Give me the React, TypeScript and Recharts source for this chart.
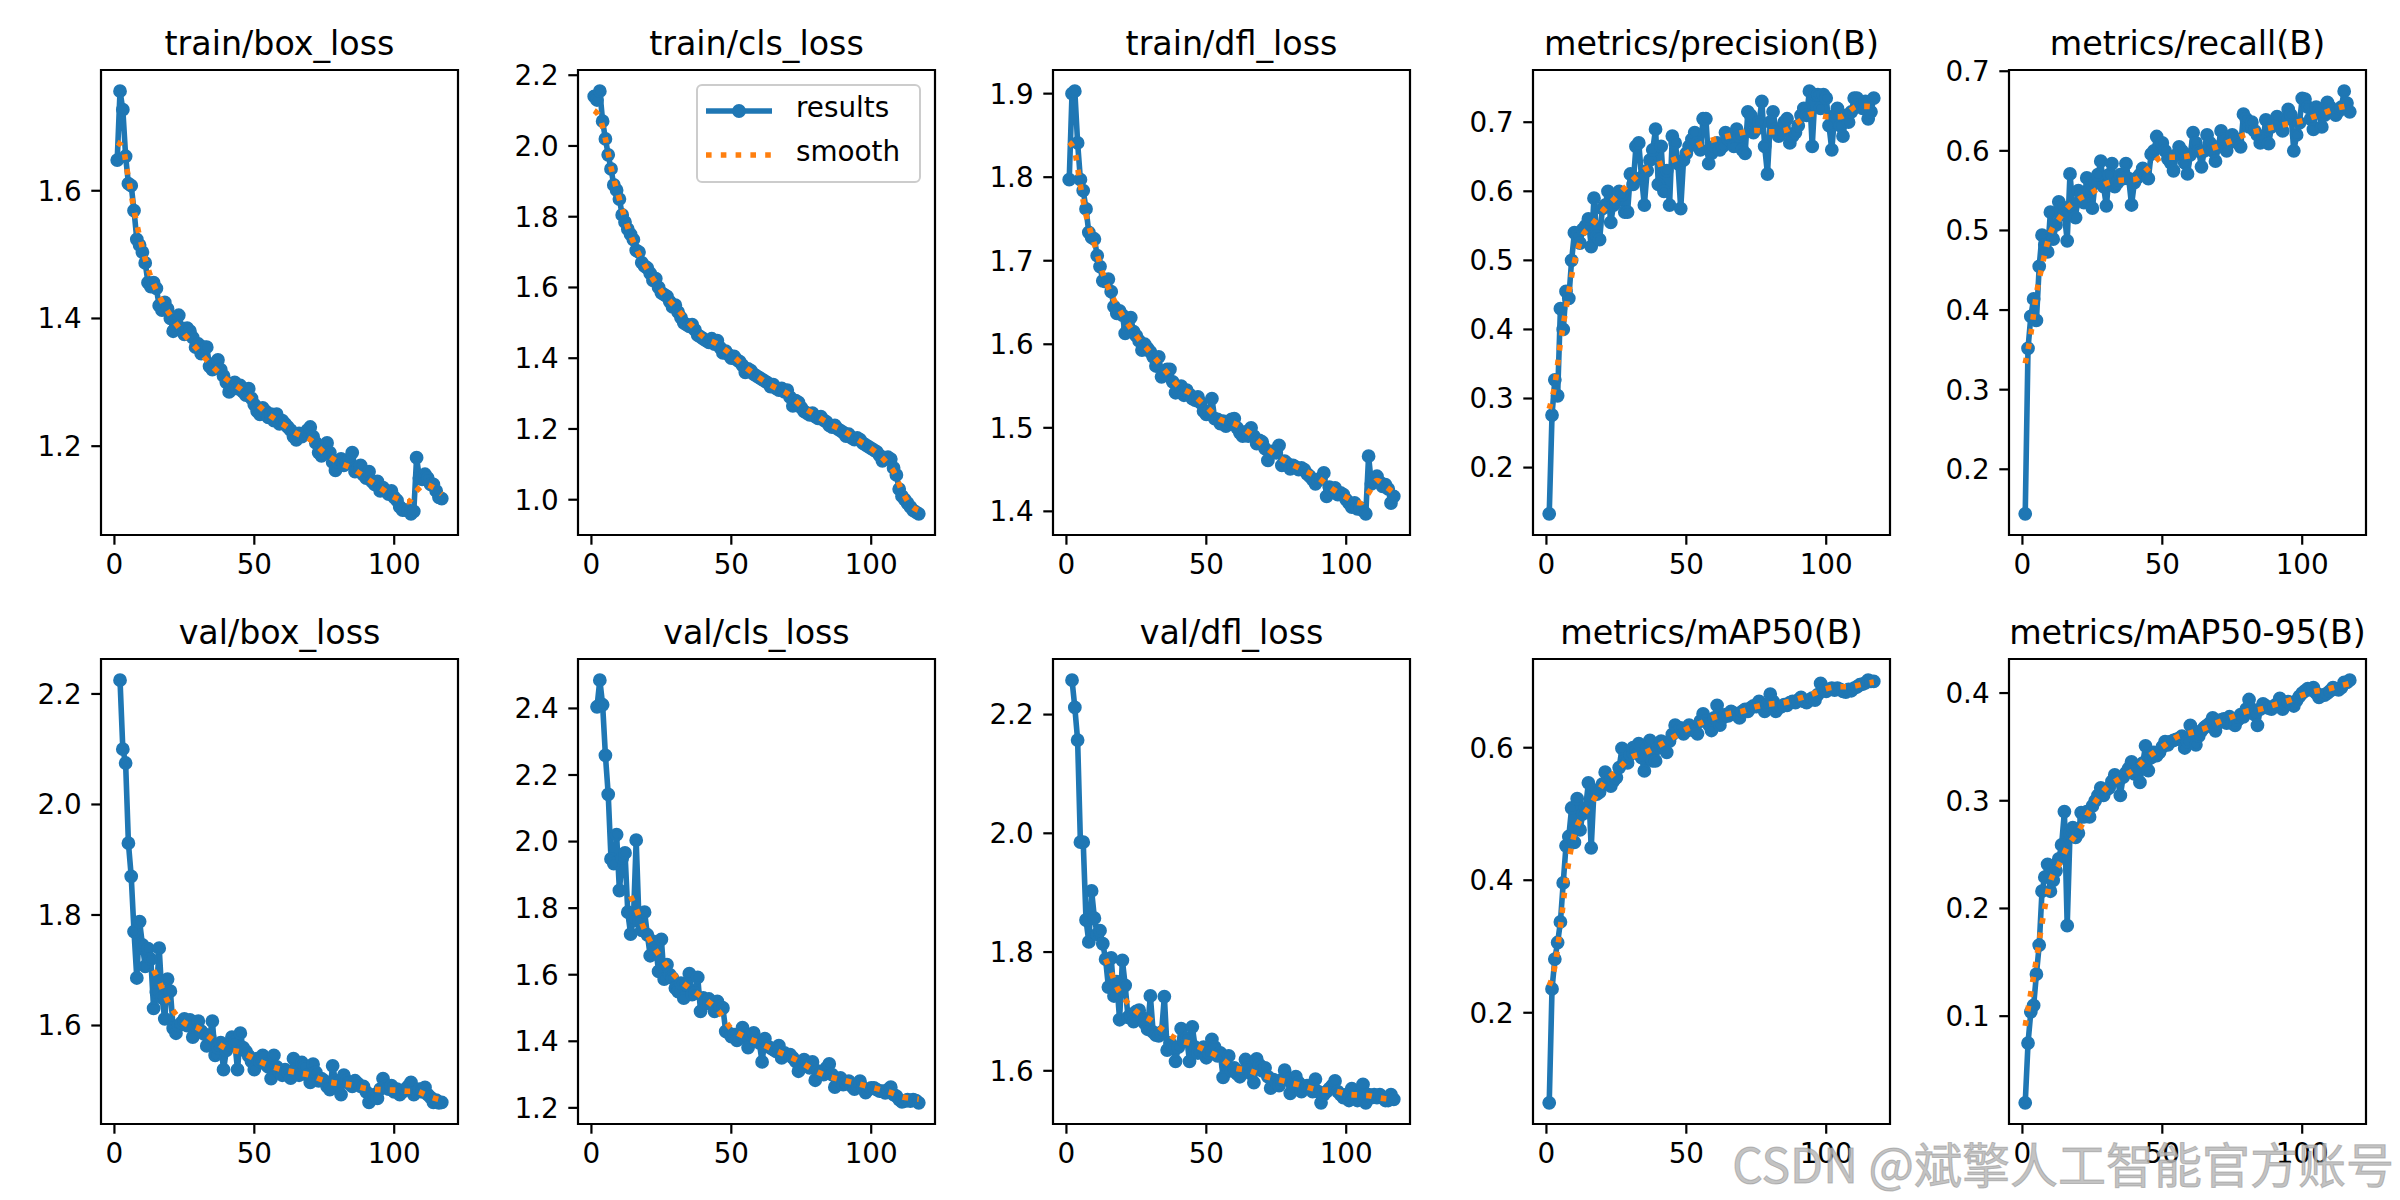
import React from 'react'
import { LineChart, Line, XAxis, YAxis, ReferenceArea, Legend } from 'recharts'

const trainBoxLoss = [
  1.648, 1.756, 1.727, 1.654, 1.611, 1.608, 1.569, 1.524, 1.515, 1.504,
  1.487, 1.456, 1.45, 1.456, 1.447, 1.42, 1.413, 1.425, 1.415, 1.40,
  1.38, 1.39, 1.405, 1.385, 1.375, 1.385, 1.38, 1.37, 1.355, 1.36,
  1.345, 1.355, 1.355, 1.325, 1.32, 1.33, 1.335, 1.32, 1.31, 1.30,
  1.285, 1.295, 1.30, 1.29, 1.295, 1.285, 1.28, 1.29, 1.275, 1.265,
  1.255, 1.25, 1.26, 1.255, 1.245, 1.25, 1.24, 1.25, 1.235, 1.24,
  1.235, 1.23, 1.225, 1.215, 1.21, 1.22, 1.215, 1.22, 1.225, 1.23,
  1.215, 1.205, 1.19, 1.185, 1.20, 1.205, 1.19, 1.175, 1.162, 1.175,
  1.18, 1.17, 1.175, 1.18, 1.19, 1.16, 1.165, 1.17, 1.155, 1.15,
  1.16, 1.145, 1.14, 1.145, 1.13, 1.135, 1.13, 1.125, 1.13, 1.12,
  1.115, 1.105, 1.10, 1.10, 1.10, 1.094, 1.098, 1.182, 1.15, 1.148,
  1.156, 1.15, 1.14, 1.14, 1.13, 1.12, 1.118,
]
const trainClsLoss = [
  2.14, 2.13, 2.155, 2.07, 2.02, 1.975, 1.935, 1.89, 1.875, 1.85,
  1.805, 1.785, 1.765, 1.75, 1.735, 1.705, 1.70, 1.67, 1.66, 1.655,
  1.64, 1.62, 1.625, 1.60, 1.585, 1.58, 1.575, 1.56, 1.545, 1.55,
  1.53, 1.515, 1.50, 1.495, 1.49, 1.495, 1.48, 1.465, 1.46, 1.455,
  1.45, 1.445, 1.455, 1.44, 1.45, 1.43, 1.415, 1.42, 1.41, 1.40,
  1.405, 1.395, 1.39, 1.38, 1.36, 1.37, 1.365, 1.355, 1.35, 1.345,
  1.34, 1.335, 1.33, 1.32, 1.325, 1.315, 1.31, 1.315, 1.305, 1.31,
  1.29, 1.265, 1.28, 1.275, 1.26, 1.25, 1.245, 1.24, 1.245, 1.235,
  1.23, 1.235, 1.225, 1.22, 1.21, 1.205, 1.21, 1.20, 1.195, 1.19,
  1.18, 1.185, 1.175, 1.17, 1.175, 1.17, 1.16, 1.155, 1.15, 1.145,
  1.14, 1.135, 1.125, 1.11, 1.115, 1.12, 1.115, 1.09, 1.07, 1.03,
  1.01, 1.00, 0.99, 0.98, 0.97, 0.965, 0.96,
]
const trainDflLoss = [
  1.797, 1.90, 1.903, 1.841, 1.797, 1.784, 1.762, 1.734, 1.728, 1.726,
  1.706, 1.693, 1.676, 1.675, 1.678, 1.663, 1.645, 1.637, 1.64, 1.635,
  1.613, 1.62, 1.632, 1.615, 1.61, 1.604, 1.593, 1.60, 1.595, 1.591,
  1.585, 1.574, 1.585, 1.561, 1.565, 1.57, 1.57, 1.555, 1.542, 1.545,
  1.55, 1.539, 1.545, 1.54, 1.535, 1.533, 1.537, 1.53, 1.52, 1.516,
  1.52, 1.535, 1.511, 1.51, 1.505, 1.508, 1.502, 1.505, 1.51, 1.511,
  1.50, 1.494, 1.49, 1.495, 1.49, 1.50, 1.49, 1.481, 1.485, 1.483,
  1.475, 1.461, 1.47, 1.472, 1.47, 1.479, 1.455, 1.46, 1.457, 1.451,
  1.455, 1.453, 1.45, 1.452, 1.45, 1.445, 1.442, 1.438, 1.433, 1.437,
  1.44, 1.446, 1.418, 1.429, 1.425, 1.428, 1.42, 1.422, 1.42, 1.414,
  1.41, 1.405, 1.41, 1.403, 1.404, 1.401, 1.397, 1.466, 1.433, 1.44,
  1.442, 1.435, 1.43, 1.432, 1.427, 1.41, 1.418,
]
const precision = [
  0.133, 0.276, 0.327, 0.304, 0.43, 0.40, 0.455, 0.445, 0.50, 0.54,
  0.535, 0.525, 0.545, 0.55, 0.56, 0.52, 0.59, 0.535, 0.53, 0.575,
  0.58, 0.60, 0.555, 0.58, 0.585, 0.60, 0.595, 0.57, 0.57, 0.625,
  0.61, 0.665, 0.67, 0.62, 0.58, 0.63, 0.645, 0.66, 0.69, 0.61,
  0.665, 0.60, 0.63, 0.58, 0.68, 0.67, 0.64, 0.575, 0.645, 0.655,
  0.665, 0.675, 0.685, 0.67, 0.66, 0.705, 0.705, 0.64, 0.655, 0.665,
  0.67, 0.66, 0.665, 0.685, 0.675, 0.68, 0.665, 0.69, 0.68, 0.66,
  0.655, 0.715, 0.71, 0.685, 0.69, 0.70, 0.73, 0.665, 0.625, 0.70,
  0.715, 0.69, 0.68, 0.685, 0.70, 0.705, 0.67, 0.68, 0.685, 0.695,
  0.71, 0.72, 0.71, 0.745, 0.665, 0.74, 0.74, 0.72, 0.74, 0.735,
  0.695, 0.66, 0.71, 0.72, 0.695, 0.68, 0.71, 0.70, 0.715, 0.735,
  0.735, 0.725, 0.72, 0.73, 0.705, 0.715, 0.735,
]
const recall = [
  0.144, 0.352, 0.392, 0.414, 0.387, 0.455, 0.494, 0.482, 0.473, 0.523,
  0.489, 0.507, 0.536, 0.53, 0.52, 0.487, 0.571, 0.53, 0.516, 0.55,
  0.545, 0.535, 0.566, 0.55, 0.528, 0.56, 0.57, 0.587, 0.555, 0.531,
  0.57, 0.584, 0.555, 0.56, 0.57, 0.565, 0.584, 0.565, 0.532, 0.56,
  0.566, 0.57, 0.578, 0.57, 0.565, 0.596, 0.60, 0.618, 0.605, 0.61,
  0.60, 0.59, 0.585, 0.575, 0.595, 0.605, 0.60, 0.585, 0.571, 0.595,
  0.623, 0.61, 0.60, 0.58, 0.60, 0.62, 0.61, 0.60, 0.587, 0.605,
  0.625, 0.615, 0.60, 0.61, 0.62, 0.615, 0.61, 0.605, 0.646, 0.64,
  0.63, 0.636, 0.625, 0.62, 0.61, 0.615, 0.639, 0.609, 0.63, 0.635,
  0.643, 0.63, 0.625, 0.64, 0.652, 0.645, 0.60, 0.62, 0.635, 0.666,
  0.665, 0.655, 0.64, 0.627, 0.655, 0.65, 0.63, 0.645, 0.661, 0.655,
  0.65, 0.645, 0.65, 0.655, 0.675, 0.66, 0.649,
]
// val losses have no value for epoch 1
const valBoxLoss = [
  null, 2.225, 2.10, 2.075, 1.93, 1.87, 1.77, 1.686, 1.788, 1.746,
  1.707, 1.739, 1.72, 1.631, 1.66, 1.74, 1.65, 1.612, 1.684, 1.662,
  1.595, 1.586, 1.60, 1.605, 1.612, 1.60, 1.61, 1.579, 1.60, 1.608,
  1.59, 1.585, 1.563, 1.58, 1.608, 1.546, 1.56, 1.569, 1.52, 1.555,
  1.565, 1.579, 1.57, 1.52, 1.586, 1.56, 1.553, 1.545, 1.535, 1.52,
  1.54, 1.535, 1.546, 1.53, 1.525, 1.504, 1.546, 1.525, 1.515, 1.51,
  1.52, 1.515, 1.505, 1.54, 1.52, 1.51, 1.533, 1.525, 1.51, 1.497,
  1.53, 1.515, 1.50, 1.504, 1.50, 1.49, 1.484, 1.527, 1.50, 1.495,
  1.475, 1.51, 1.50, 1.495, 1.49, 1.50, 1.495, 1.49, 1.49, 1.48,
  1.461, 1.47, 1.475, 1.468, 1.485, 1.504, 1.49, 1.485, 1.491, 1.48,
  1.485, 1.475, 1.48, 1.485, 1.49, 1.497, 1.475, 1.48, 1.485, 1.48,
  1.488, 1.475, 1.47, 1.461, 1.465, 1.46, 1.461,
]
const valClsLoss = [
  null, 2.405, 2.485, 2.411, 2.259, 2.142, 1.948, 1.934, 2.021, 1.853,
  1.95, 1.966, 1.788, 1.722, 1.765, 2.004, 1.76, 1.733, 1.788, 1.72,
  1.657, 1.70, 1.68, 1.61, 1.706, 1.587, 1.63, 1.60, 1.59, 1.56,
  1.549, 1.575, 1.53, 1.57, 1.603, 1.54, 1.545, 1.592, 1.49, 1.53,
  1.515, 1.527, 1.51, 1.49, 1.52, 1.505, 1.50, 1.43, 1.425, 1.414,
  1.42, 1.403, 1.415, 1.441, 1.41, 1.381, 1.42, 1.425, 1.40, 1.395,
  1.338, 1.408, 1.385, 1.38, 1.375, 1.37, 1.387, 1.35, 1.365, 1.36,
  1.36, 1.35, 1.34, 1.31, 1.33, 1.345, 1.335, 1.32, 1.338, 1.283,
  1.31, 1.305, 1.30, 1.32, 1.332, 1.30, 1.262, 1.285, 1.29, 1.27,
  1.275, 1.28, 1.265, 1.256, 1.27, 1.28, 1.26, 1.246, 1.255, 1.26,
  1.26, 1.255, 1.25, 1.25, 1.245, 1.255, 1.262, 1.24, 1.235, 1.225,
  1.218, 1.22, 1.225, 1.22, 1.225, 1.222, 1.215,
]
const valDflLoss = [
  null, 2.258, 2.212, 2.157, 1.985, 1.985, 1.854, 1.817, 1.903, 1.857,
  1.83, 1.836, 1.814, 1.788, 1.741, 1.79, 1.726, 1.75, 1.686, 1.786,
  1.744, 1.69, 1.695, 1.683, 1.70, 1.702, 1.69, 1.68, 1.67, 1.726,
  1.665, 1.66, 1.659, 1.665, 1.725, 1.635, 1.647, 1.64, 1.616, 1.64,
  1.671, 1.65, 1.655, 1.616, 1.674, 1.64, 1.63, 1.635, 1.64, 1.622,
  1.63, 1.653, 1.64, 1.625, 1.63, 1.589, 1.61, 1.625, 1.60, 1.605,
  1.595, 1.59, 1.60, 1.619, 1.605, 1.595, 1.58, 1.62, 1.61, 1.60,
  1.605, 1.59, 1.571, 1.585, 1.58, 1.575, 1.585, 1.601, 1.585, 1.562,
  1.575, 1.59, 1.58, 1.565, 1.57, 1.575, 1.57, 1.565, 1.586, 1.565,
  1.546, 1.56, 1.565, 1.57, 1.575, 1.583, 1.565, 1.56, 1.555, 1.56,
  1.55, 1.57, 1.555, 1.55, 1.56, 1.577, 1.546, 1.56, 1.555, 1.56,
  1.555, 1.56, 1.555, 1.55, 1.55, 1.56, 1.552,
]
const map50 = [
  0.064, 0.236, 0.281, 0.306, 0.337, 0.396, 0.452, 0.466, 0.509, 0.457,
  0.523, 0.476, 0.50, 0.509, 0.547, 0.449, 0.536, 0.53, 0.533, 0.545,
  0.563, 0.555, 0.542, 0.55, 0.555, 0.57, 0.599, 0.58, 0.577, 0.59,
  0.60, 0.595, 0.606, 0.585, 0.565, 0.60, 0.611, 0.58, 0.58, 0.60,
  0.61, 0.60, 0.593, 0.61, 0.62, 0.634, 0.625, 0.63, 0.621, 0.625,
  0.634, 0.63, 0.625, 0.621, 0.64, 0.651, 0.64, 0.635, 0.626, 0.645,
  0.664, 0.634, 0.645, 0.65, 0.648, 0.655, 0.652, 0.65, 0.645, 0.655,
  0.658, 0.655, 0.66, 0.663, 0.662, 0.67, 0.665, 0.655, 0.665, 0.681,
  0.67, 0.655, 0.66, 0.662, 0.665, 0.664, 0.668, 0.67, 0.668, 0.672,
  0.676, 0.67, 0.668, 0.672, 0.675, 0.672, 0.68, 0.697, 0.69, 0.685,
  0.688, 0.69, 0.687, 0.69, 0.688, 0.685, 0.684, 0.688, 0.686, 0.69,
  0.692, 0.695, 0.696, 0.698, 0.702, 0.70, 0.70,
]
const map5095 = [
  0.0195, 0.075, 0.104, 0.11, 0.139, 0.166, 0.216, 0.229, 0.241, 0.216,
  0.226, 0.235, 0.246, 0.259, 0.29, 0.184, 0.27, 0.275, 0.266, 0.27,
  0.289, 0.285, 0.29, 0.285, 0.295, 0.30, 0.305, 0.312, 0.305, 0.31,
  0.312, 0.318, 0.324, 0.32, 0.305, 0.322, 0.326, 0.33, 0.336, 0.325,
  0.328, 0.317, 0.335, 0.351, 0.328, 0.34, 0.345, 0.342, 0.345, 0.35,
  0.355, 0.352, 0.355, 0.356, 0.357, 0.358, 0.36, 0.349, 0.355, 0.37,
  0.365, 0.352, 0.36, 0.365, 0.368, 0.37, 0.372, 0.377, 0.365, 0.372,
  0.375, 0.376, 0.372, 0.378, 0.372, 0.37, 0.375, 0.38, 0.378, 0.385,
  0.394, 0.385, 0.38, 0.37, 0.385, 0.39, 0.388, 0.386, 0.385, 0.388,
  0.39, 0.395, 0.385, 0.39, 0.392, 0.39, 0.388, 0.393, 0.397, 0.40,
  0.402, 0.404, 0.403, 0.405, 0.40, 0.396, 0.398, 0.398, 0.40, 0.402,
  0.405, 0.404, 0.403, 0.405, 0.41, 0.41, 0.412,
]

// the dotted "smooth" curves, read at these epochs
const smoothEpochs = [1, 3, 5, 7, 10, 13, 16, 20, 25, 30, 35, 40, 45, 50, 55, 60, 65, 70, 75, 80, 85, 90, 95, 100, 105, 108, 111, 114, 117]
const valSmoothEpochs = [14, 16, 18, 20, 25, 30, 35, 40, 45, 50, 55, 60, 65, 70, 75, 80, 85, 90, 95, 100, 105, 108, 111, 114, 117]

const trainBoxSmooth = [1.676, 1.667, 1.62, 1.57, 1.51, 1.465, 1.435, 1.405, 1.375, 1.35, 1.325, 1.305, 1.29, 1.27, 1.25, 1.235, 1.22, 1.21, 1.19, 1.175, 1.165, 1.15, 1.135, 1.12, 1.113, 1.13, 1.14, 1.135, 1.125]
const trainClsSmooth = [2.10, 2.08, 2.02, 1.94, 1.85, 1.77, 1.71, 1.65, 1.59, 1.545, 1.50, 1.46, 1.44, 1.41, 1.375, 1.345, 1.32, 1.30, 1.265, 1.24, 1.215, 1.195, 1.17, 1.145, 1.11, 1.08, 1.025, 0.985, 0.97]
const trainDflSmooth = [1.842, 1.83, 1.79, 1.755, 1.72, 1.685, 1.66, 1.635, 1.61, 1.59, 1.57, 1.55, 1.54, 1.525, 1.51, 1.505, 1.495, 1.48, 1.467, 1.457, 1.449, 1.44, 1.427, 1.417, 1.41, 1.422, 1.437, 1.43, 1.422]
const precisionSmooth = [0.285, 0.32, 0.38, 0.43, 0.497, 0.536, 0.55, 0.571, 0.592, 0.613, 0.631, 0.639, 0.645, 0.655, 0.668, 0.675, 0.68, 0.685, 0.688, 0.686, 0.688, 0.70, 0.712, 0.708, 0.708, 0.715, 0.723, 0.723, 0.722]
const recallSmooth = [0.333, 0.37, 0.42, 0.455, 0.497, 0.514, 0.528, 0.539, 0.548, 0.559, 0.563, 0.564, 0.578, 0.592, 0.592, 0.594, 0.60, 0.606, 0.613, 0.621, 0.626, 0.63, 0.634, 0.638, 0.644, 0.648, 0.652, 0.655, 0.657]
const valBoxSmooth = [1.70, 1.68, 1.655, 1.635, 1.605, 1.595, 1.575, 1.558, 1.552, 1.54, 1.528, 1.52, 1.515, 1.51, 1.50, 1.495, 1.492, 1.486, 1.484, 1.483, 1.481, 1.481, 1.475, 1.469, 1.465]
const valClsSmooth = [1.836, 1.798, 1.755, 1.717, 1.65, 1.595, 1.56, 1.53, 1.495, 1.438, 1.413, 1.395, 1.375, 1.357, 1.336, 1.311, 1.294, 1.283, 1.273, 1.262, 1.251, 1.243, 1.233, 1.229, 1.226]
const valDflSmooth = [1.788, 1.766, 1.741, 1.726, 1.70, 1.686, 1.667, 1.652, 1.645, 1.634, 1.622, 1.605, 1.601, 1.592, 1.586, 1.58, 1.574, 1.568, 1.567, 1.561, 1.559, 1.558, 1.555, 1.553, 1.552]
const map50Smooth = [0.241, 0.27, 0.33, 0.40, 0.47, 0.497, 0.515, 0.544, 0.565, 0.585, 0.592, 0.603, 0.615, 0.628, 0.637, 0.646, 0.651, 0.655, 0.662, 0.666, 0.668, 0.674, 0.681, 0.689, 0.692, 0.692, 0.694, 0.697, 0.699]
const map5095Smooth = [0.091, 0.122, 0.153, 0.186, 0.225, 0.24, 0.257, 0.272, 0.295, 0.312, 0.321, 0.329, 0.341, 0.35, 0.359, 0.363, 0.367, 0.373, 0.378, 0.383, 0.385, 0.389, 0.393, 0.398, 0.402, 0.403, 0.405, 0.407, 0.409]

const xTicks = [0, 50, 100]

const PANELS = [
  { title: 'train/box_loss', values: trainBoxLoss, smoothX: smoothEpochs, smooth: trainBoxSmooth, yTicks: [1.2, 1.4, 1.6] },
  { title: 'train/cls_loss', values: trainClsLoss, smoothX: smoothEpochs, smooth: trainClsSmooth, yTicks: [1.0, 1.2, 1.4, 1.6, 1.8, 2.0, 2.2] },
  { title: 'train/dfl_loss', values: trainDflLoss, smoothX: smoothEpochs, smooth: trainDflSmooth, yTicks: [1.4, 1.5, 1.6, 1.7, 1.8, 1.9] },
  { title: 'metrics/precision(B)', values: precision, smoothX: smoothEpochs, smooth: precisionSmooth, yTicks: [0.2, 0.3, 0.4, 0.5, 0.6, 0.7] },
  { title: 'metrics/recall(B)', values: recall, smoothX: smoothEpochs, smooth: recallSmooth, yTicks: [0.2, 0.3, 0.4, 0.5, 0.6, 0.7] },
  { title: 'val/box_loss', values: valBoxLoss, smoothX: valSmoothEpochs, smooth: valBoxSmooth, yTicks: [1.6, 1.8, 2.0, 2.2] },
  { title: 'val/cls_loss', values: valClsLoss, smoothX: valSmoothEpochs, smooth: valClsSmooth, yTicks: [1.2, 1.4, 1.6, 1.8, 2.0, 2.2, 2.4] },
  { title: 'val/dfl_loss', values: valDflLoss, smoothX: valSmoothEpochs, smooth: valDflSmooth, yTicks: [1.6, 1.8, 2.0, 2.2] },
  { title: 'metrics/mAP50(B)', values: map50, smoothX: smoothEpochs, smooth: map50Smooth, yTicks: [0.2, 0.4, 0.6] },
  { title: 'metrics/mAP50-95(B)', values: map5095, smoothX: smoothEpochs, smooth: map5095Smooth, yTicks: [0.1, 0.2, 0.3, 0.4] },
]

const FONT = '"DejaVu Sans", sans-serif'
const BLUE = '#1f77b4'
const ORANGE = '#ff7f0e'
const COL_LEFT = [101, 578, 1053, 1533, 2009]
const ROW_TOP = [70, 659]
const AXES_W = 357
const AXES_H = 465
const YW = 110
const XH = 70
const TM = 24 // room above the frame so the top tick label is not cut
const X_DOMAIN: [number, number] = [-4.8, 122.8]
const tickStyle = { fontSize: 27.8, fill: '#000', fontFamily: FONT }
const tickLine = { stroke: '#000', strokeWidth: 2.2 }

function LegendBox({ payload }: { payload?: Array<{ value: string; color?: string }> }) {
  const items = payload ?? []
  return (
    <div
      style={{
        position: 'relative',
        boxSizing: 'border-box',
        width: 225,
        height: 99,
        border: '2.2px solid #cccccc',
        borderRadius: 6,
        background: 'rgba(255,255,255,0.8)',
        fontFamily: FONT,
        fontSize: 27.8,
        color: '#000',
      }}
    >
      {items.map((it, i) => {
        const cy = i === 0 ? 25 : 69
        return (
          <React.Fragment key={it.value}>
            <svg width={80} height={24} style={{ position: 'absolute', left: 6, top: cy - 12 }}>
              {i === 0 ? (
                <>
                  <line x1={2} y1={12} x2={68} y2={12} stroke={it.color} strokeWidth={5.6} />
                  <circle cx={35} cy={12} r={5.5} fill={it.color} stroke={it.color} strokeWidth={2.8} />
                </>
              ) : (
                <line x1={2} y1={12} x2={68} y2={12} stroke={it.color} strokeWidth={5.6} strokeDasharray="5.6 9.2" />
              )}
            </svg>
            <span style={{ position: 'absolute', left: 98, top: cy - 17, lineHeight: '28px', whiteSpace: 'nowrap' }}>
              {it.value}
            </span>
          </React.Fragment>
        )
      })}
    </div>
  )
}

type PanelProps = {
  title: string
  values: (number | null)[]
  smoothX: number[]
  smooth: number[]
  yTicks: number[]
  left: number
  top: number
  legend?: boolean
}

function Panel({ title, values, smoothX, smooth, yTicks, left, top, legend }: PanelProps) {
  const pts = values.map((y, i) => ({ x: i + 1, y }))
  const sm = smoothX.map((x, i) => ({ x, y: smooth[i] }))
  const all = [...values.filter((v): v is number => v !== null), ...smooth]
  const lo = Math.min(...all)
  const hi = Math.max(...all)
  const pad = (hi - lo) * 0.05
  const yDomain: [number, number] = [lo - pad, hi + pad]
  const chartW = AXES_W + YW + 20
  const chartH = AXES_H + XH + TM

  return (
    <>
      <div
        style={{
          position: 'absolute',
          left,
          top: top - 43,
          width: AXES_W,
          textAlign: 'center',
          fontSize: 33.3,
          lineHeight: 1,
          fontFamily: FONT,
          whiteSpace: 'nowrap',
        }}
      >
        {title}
      </div>
      <div style={{ position: 'absolute', left: left - YW, top: top - TM }}>
        <LineChart width={chartW} height={chartH} margin={{ top: TM, right: 20, bottom: 0, left: 0 }}>
          <XAxis
            type="number"
            dataKey="x"
            domain={X_DOMAIN}
            allowDataOverflow
            ticks={xTicks}
            interval={0}
            height={XH}
            axisLine={false}
            tickLine={tickLine}
            tickSize={9.7}
            tickMargin={9.7}
            tick={tickStyle}
          />
          <YAxis
            type="number"
            domain={yDomain}
            allowDataOverflow
            ticks={yTicks}
            interval={0}
            width={YW}
            axisLine={false}
            tickLine={tickLine}
            tickSize={9.7}
            tickMargin={9.7}
            tick={tickStyle}
            tickFormatter={(v: number) => v.toFixed(1)}
          />
          <ReferenceArea
            x1={X_DOMAIN[0]}
            x2={X_DOMAIN[1]}
            y1={yDomain[0]}
            y2={yDomain[1]}
            fill="none"
            fillOpacity={0}
            stroke="#000"
            strokeWidth={2.2}
            ifOverflow="visible"
          />
          <Line
            data={pts}
            dataKey="y"
            name="results"
            type="linear"
            stroke={BLUE}
            strokeWidth={5.6}
            strokeLinejoin="round"
            dot={{ r: 5.5, fill: BLUE, stroke: BLUE, strokeWidth: 2.8 }}
            activeDot={false}
            isAnimationActive={false}
          />
          {legend && (
            <Line data={[]} dataKey="y" name="smooth" stroke={ORANGE} strokeDasharray="5.6 9.2" dot={false} isAnimationActive={false} />
          )}
          {legend && (
            <Legend
              layout="vertical"
              align="center"
              verticalAlign="middle"
              content={<LegendBox />}
              wrapperStyle={{ left: YW + AXES_W - 14 - 225, top: TM + 14, width: 225, height: 99 }}
            />
          )}
        </LineChart>
      </div>
      {/* smooth curve drawn in a second chart on top, so its dots sit over the markers as in matplotlib */}
      <div style={{ position: 'absolute', left: left - YW, top: top - TM, pointerEvents: 'none' }}>
        <LineChart width={chartW} height={chartH} margin={{ top: TM, right: 20, bottom: XH, left: YW }}>
          <XAxis type="number" dataKey="x" domain={X_DOMAIN} allowDataOverflow hide />
          <YAxis type="number" domain={yDomain} allowDataOverflow hide />
          <Line
            data={sm}
            dataKey="y"
            name="smooth"
            type="monotone"
            stroke={ORANGE}
            strokeWidth={5.6}
            strokeDasharray="5.6 9.2"
            dot={false}
            activeDot={false}
            isAnimationActive={false}
          />
        </LineChart>
      </div>
    </>
  )
}

export default function App() {
  return (
    <div
      style={{
        position: 'absolute',
        left: 0,
        top: 0,
        width: 2400,
        height: 1200,
        background: '#fff',
        overflow: 'hidden',
        fontFamily: FONT,
      }}
    >
      {PANELS.map((p, i) => (
        <Panel
          key={p.title}
          {...p}
          left={COL_LEFT[i % 5]}
          top={ROW_TOP[Math.floor(i / 5)]}
          legend={i === 1}
        />
      ))}
      <div
        style={{
          position: 'absolute',
          right: 6,
          top: 1138,
          fontSize: 48,
          lineHeight: 1,
          fontFamily: '"Noto Sans CJK SC", sans-serif',
          color: 'rgba(185,185,185,0.85)',
          WebkitTextStroke: '1px rgba(140,140,140,0.5)',
          whiteSpace: 'nowrap',
        }}
      >
        CSDN @斌擎人工智能官方账号
      </div>
    </div>
  )
}
